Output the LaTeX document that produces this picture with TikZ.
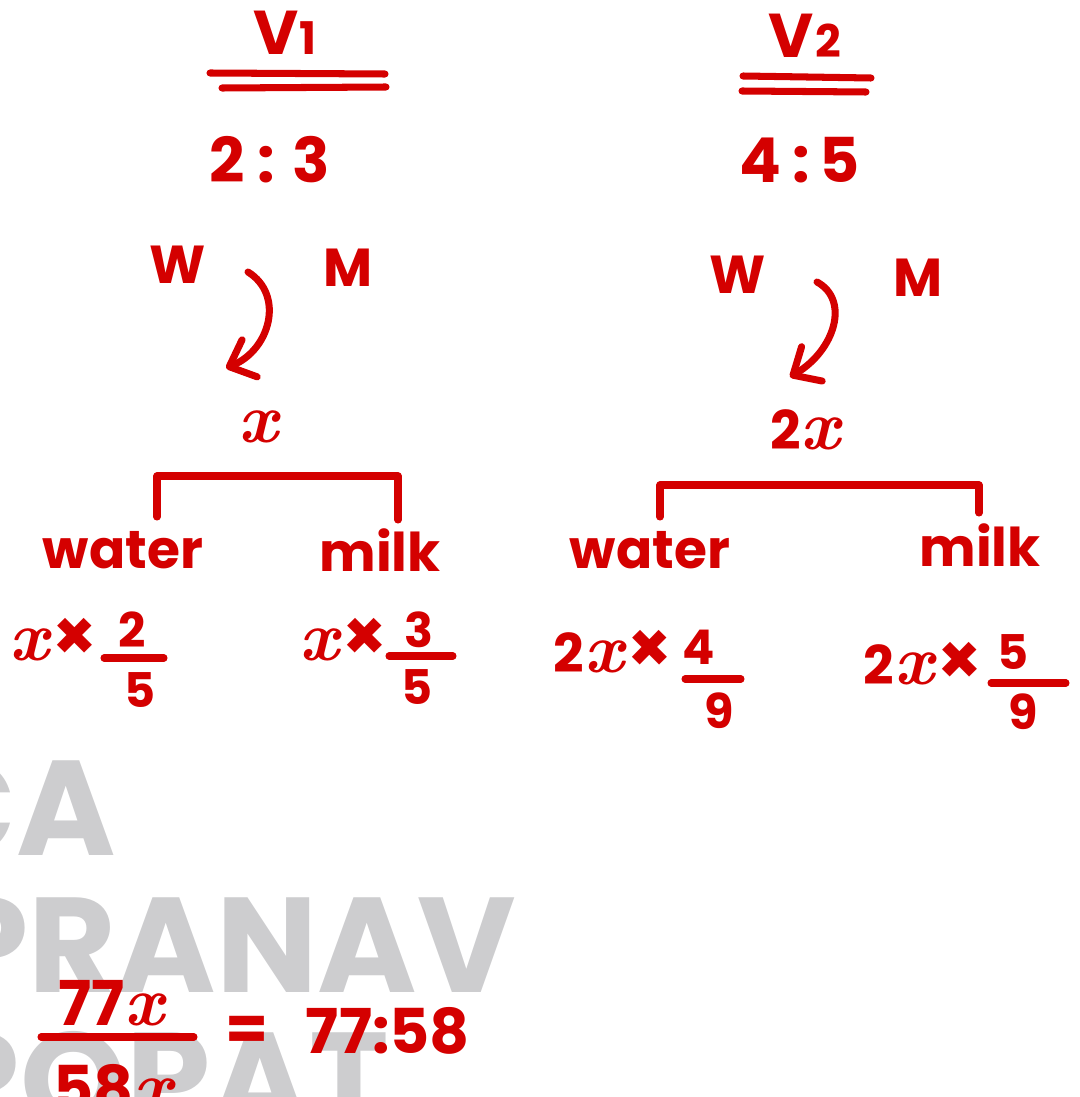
\documentclass[tikz,border=0pt]{standalone}
\usepackage{fontspec}
\usepackage{tikz}
\usetikzlibrary{arrows.meta}
\newfontfamily\hand{Poppins}
\definecolor{ink}{HTML}{D40000}
\definecolor{wmgray}{HTML}{CDCDCF}
\newcommand{\vx}{{\fontsize{50}{50}\selectfont\rmfamily\itshape x}}
\newcommand{\tms}{{\kern3pt\fontsize{50}{50}\selectfont ×}}
\newcommand{\sub}[1]{{\fontsize{32}{32}\selectfont\kern1pt#1}}
\tikzset{hand/.style={text=ink,inner sep=0pt,font=\hand\bfseries\fontsize{38}{38}\selectfont},
  handbig/.style={hand,font=\hand\bfseries\fontsize{44}{44}\selectfont},
  handsmall/.style={hand,font=\hand\bfseries\fontsize{34}{34}\selectfont},
  wmark/.style={text=wmgray,inner sep=0pt,anchor=base east,
    font=\hand\bfseries\fontsize{96}{96}\selectfont},
  pen/.style={draw=ink,line width=5pt,line cap=round,line join=round},
  curvearrow/.style={pen,-{Straight Barb[length=5.5mm,width=10mm,round]}}}

\begin{document}
\begin{tikzpicture}[x=0.025cm,y=-0.025cm]
\useasboundingbox (0,0) rectangle (1079,1097);
\clip (0,0) rectangle (1079,1097);
% watermark
\foreach \word/\px/\py in {CA/116/855,PRANAV/516/992,POPAT/390/1127}{
  \node[wmark] (wm\word) at (\px,\py) {\word};
}
% first vessel
\node[handbig,anchor=base] (v1) at (285,55) {V\sub{1}};
\draw[pen] (210,73) -- (385,74);
\draw[pen] (222,88) -- (386,87);
\node[handbig] (r1) at (270,160) {2 : 3};
\node[hand] (w1) at (178,265) {W};
\node[hand] (m1) at (348,268) {M};
\coordinate (a1s) at (248,272);
\coordinate (a1e) at (226,368);
\draw[curvearrow] (a1s) .. controls (285,295) and (270,350) .. (a1e);
\node[hand] (x1) at (258,427) {\vx};
\coordinate (b1l) at (157,517);
\coordinate (b1r) at (398,520);
\draw[pen] (b1l) -- ++(0,-41) -| (b1r);
\node[hand] (water1) at (123,550) {water};
\node[hand] (milk1) at (380,550) {milk};
\node[hand,anchor=base east] (e1) at (98,660) {\vx\tms};
\node[handsmall] (n1) at (132,630) {2};
\draw[pen] (104,658) -- (164,658);
\node[handsmall] (d1) at (140,690) {5};
\node[hand,anchor=base east] (e2) at (388,660) {\vx\tms};
\node[handsmall] (n2) at (419,630) {3};
\draw[pen] (389,656) -- (453,656);
\node[handsmall] (d2) at (417,687) {5};
% second vessel
\node[handbig,anchor=base] (v2) at (805,58) {V\sub{2}};
\draw[pen] (743,76) -- (871,78);
\draw[pen] (742,91) -- (866,92);
\node[handbig] (r2) at (800,160) {4\,:\,5};
\node[hand] (w2) at (738,275) {W};
\node[hand] (m2) at (918,278) {M};
\coordinate (a2s) at (817,282);
\coordinate (a2e) at (790,377);
\draw[curvearrow] (a2s) .. controls (850,300) and (835,350) .. (a2e);
\node[hand] (x2) at (805,430) {2\vx};
\coordinate (b2l) at (660,517);
\coordinate (b2r) at (979,513);
\draw[pen] (b2l) -- ++(0,-32) -| (b2r);
\node[hand] (water2) at (650,550) {water};
\node[hand] (milk2) at (980,545) {milk};
\node[hand,anchor=base east] (e3) at (673,672) {2\vx\tms};
\node[handsmall] (n3) at (699,647) {4};
\draw[pen] (685,679) -- (741,679);
\node[handsmall] (d3) at (719,711) {9};
\node[hand,anchor=base east] (e4) at (983,684) {2\vx\tms};
\node[handsmall] (n4) at (1013,652) {5};
\draw[pen] (991,683) -- (1066,683);
\node[handsmall] (d4) at (1023,712) {9};
% result
\node[handbig] (top) at (111,1003) {77\vx};
\draw[pen] (41,1037) -- (194,1037);
\node[handbig] (bot) at (113,1088) {58\vx};
\node[handbig] (eq) at (247,1033) {=};
\node[handbig] (res) at (388,1031) {77:58};
\end{tikzpicture}
\end{document}
